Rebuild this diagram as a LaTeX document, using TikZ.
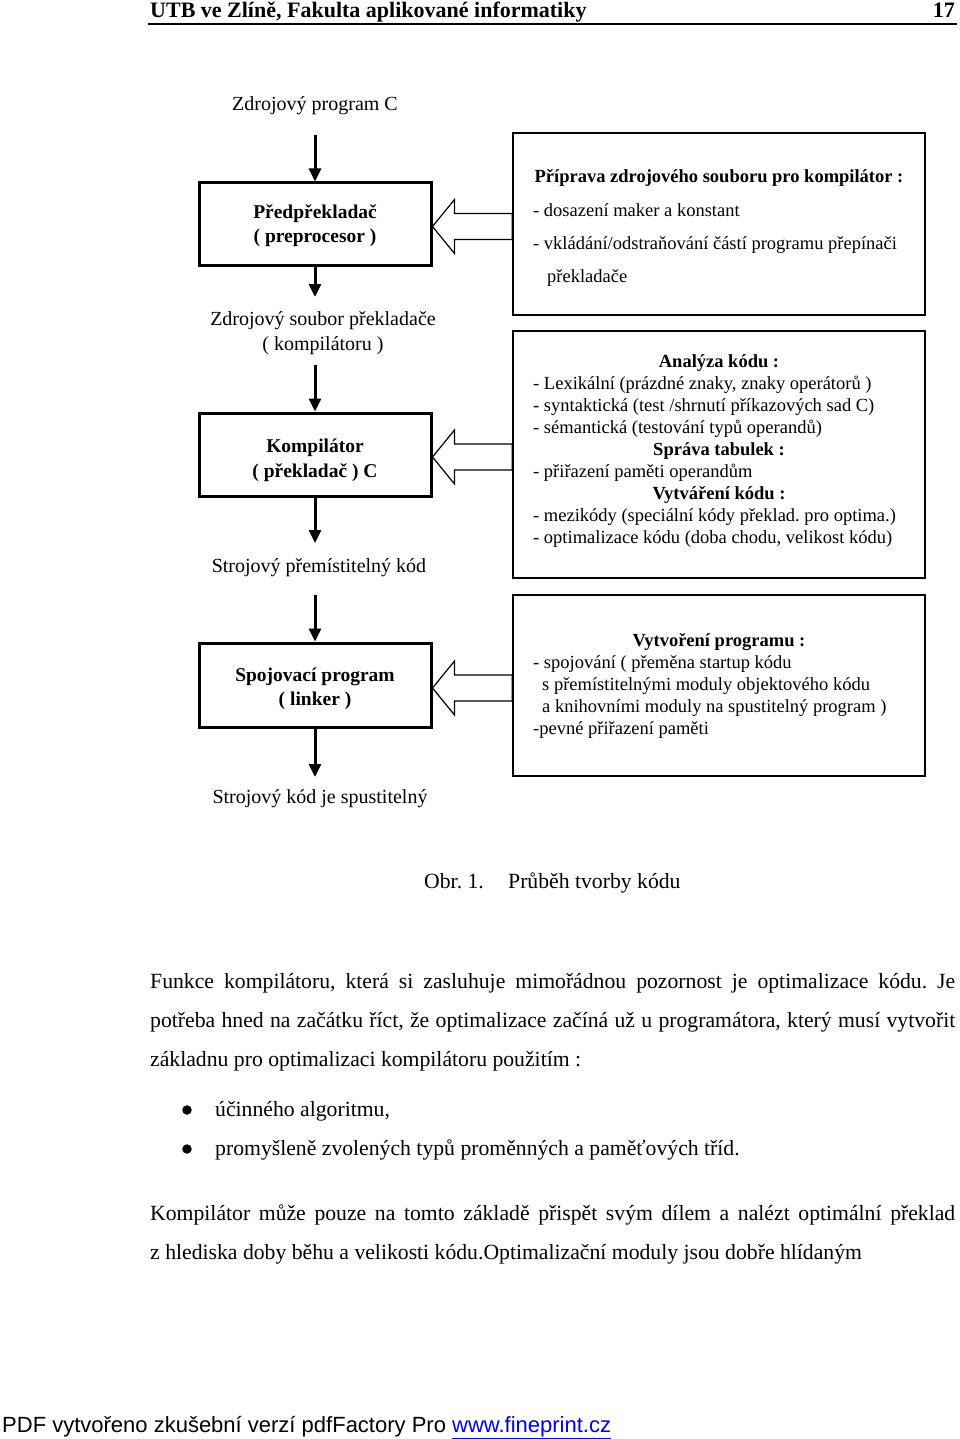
\documentclass[tikz,border=0pt]{standalone}
\usepackage{fontspec}
\setmainfont{Liberation Serif}
\newfontfamily\arialf{Liberation Sans}
\usetikzlibrary{arrows.meta,calc}
\definecolor{linkblue}{RGB}{0,0,238}
\frenchspacing
\begin{document}
\begin{tikzpicture}[x=1pt,y=-1pt,
  lbl/.style={inner sep=0pt,anchor=base,font=\fontsize{20}{24}\selectfont},
  lboxtxt/.style={inner sep=0pt,anchor=base,font=\fontsize{19.5}{24}\selectfont\bfseries},
  lbox/.style={draw,line width=3pt,minimum width=232pt,inner sep=0pt},
  rbox/.style={draw,line width=1.4pt,minimum width=412pt,inner sep=0pt},
  rhead/.style={inner sep=0pt,anchor=base,font=\fontsize{18.5}{22}\selectfont\bfseries},
  rtxt/.style={inner sep=0pt,anchor=base west,font=\fontsize{18.5}{22}\selectfont},
  flow/.style={line width=3pt,-{Triangle[length=13pt,width=12pt]}},
  hollow/.style={draw,line width=1.2pt,fill=white,line join=miter},
  body/.style={inner sep=0pt,anchor=base west,font=\fontsize{21.7}{26}\selectfont},
  bullet/.style={circle,fill=black,inner sep=0pt,minimum size=9.5pt},
]
\useasboundingbox (0,0) rectangle (960,1439);
\fill[white] (0,0) rectangle (960,1439);

% header
\node[inner sep=0pt,anchor=base west,font=\fontsize{22}{26}\selectfont\bfseries] (hdr) at (150,18) {UTB ve Zlíně, Fakulta aplikované informatiky};
\node[inner sep=0pt,anchor=base east,font=\fontsize{22}{26}\selectfont\bfseries] (pg) at (955,18) {17};
\draw[line width=1.5pt] (148,24) -- (957,24);

% left column boxes
\node[lbox,minimum height=82pt] (pre) at (315,224) {};
\node[lbox,minimum height=83pt] (komp) at (315,454.5) {};
\node[lbox,minimum height=84pt] (spoj) at (315,685) {};

\node[lboxtxt] (pre1) at (315,219) {Předpřekladač};
\node[lboxtxt] (pre2) at (315,243) {( preprocesor )};
\node[lboxtxt] (komp1) at (315,452) {Kompilátor};
\node[lboxtxt] (komp2) at (315,477) {( překladač ) C};
\node[lboxtxt] (spoj1) at (315,681) {Spojovací program};
\node[lboxtxt] (spoj2) at (315,705) {( linker )};

% left labels
\node[lbl] (src) at (315,111) {Zdrojový program C};
\node[lbl] (zs1) at (323,325) {Zdrojový soubor překladače};
\node[lbl] (zs2) at (323,350) {( kompilátoru )};
\node[lbl] (sp) at (319,572) {Strojový přemístitelný kód};
\node[lbl] (sk) at (320,803) {Strojový kód je spustitelný};

% vertical arrows
\coordinate (a1) at (315,135);
\coordinate (a2) at (315,297);
\coordinate (a3) at (315,365);
\coordinate (a4) at (315,543);
\coordinate (a5) at (315,595);
\coordinate (a6) at (315,777);
\draw[flow] (a1) -- (pre.north);
\draw[flow] (pre.south) -- (a2);
\draw[flow] (a3) -- (komp.north);
\draw[flow] (komp.south) -- (a4);
\draw[flow] (a5) -- (spoj.north);
\draw[flow] (spoj.south) -- (a6);

% right boxes
\node[rbox,minimum height=182pt] (ra) at (719,224) {};
\node[rbox,minimum height=247pt] (rb) at (719,454.5) {};
\node[rbox,minimum height=181pt] (rc) at (719,685.5) {};

% hollow arrows
\foreach \L/\R/\dy in {pre/ra/2.5, komp/rb/2.5, spoj/rc/3} {
  \coordinate (t) at ($(\L.east)+(0,\dy)$);
  \coordinate (e) at ($(\R.west|-t)$);
  \draw[hollow] (t) -- ++(22,-27) -- ++(0,14) -- ($(e)+(0,-13)$) -- ($(e)+(0,13)$)
     -- ($(t)+(22,13)$) -- ++(0,14) -- cycle;
}
\draw[line width=1.4pt] (ra.north west) -- (ra.south west);
\draw[line width=1.4pt] (rb.north west) -- (rb.south west);
\draw[line width=1.4pt] (rc.north west) -- (rc.south west);

% box A
\node[rhead] (a0) at (719,183) {Příprava zdrojového souboru pro kompilátor :};
\node[rtxt] (a1t) at (533,217) {- dosazení maker a konstant};
\node[rtxt] (a2t) at (533,250) {- vkládání/odstraňování částí programu přepínači};
\node[rtxt] (a3t) at (547,282) {překladače};

% box B
\node[rhead] (b0) at (719,367) {Analýza kódu :};
\node[rtxt] (b1) at (533,389) {- Lexikální (prázdné znaky, znaky operátorů )};
\node[rtxt] (b2) at (533,411) {- syntaktická (test /shrnutí příkazových sad C)};
\node[rtxt] (b3) at (533,433) {- sémantická (testování typů operandů)};
\node[rhead] (b4) at (719,455) {Správa tabulek :};
\node[rtxt] (b5) at (533,477) {- přiřazení paměti operandům};
\node[rhead] (b6) at (719,499) {Vytváření kódu :};
\node[rtxt] (b7) at (533,521) {- mezikódy (speciální kódy překlad. pro optima.)};
\node[rtxt] (b8) at (533,543) {- optimalizace kódu (doba chodu, velikost kódu)};

% box C
\node[rhead] (c0) at (719,646) {Vytvoření programu :};
\node[rtxt] (c1) at (533,668) {- spojování ( přeměna startup kódu};
\node[rtxt] (c2) at (542,690) {s přemístitelnými moduly objektového kódu};
\node[rtxt] (c3) at (542,712) {a knihovními moduly na spustitelný program )};
\node[rtxt] (c4) at (533,734) {-pevné přiřazení paměti};

% caption
\node[body] (cap1) at (424,888) {Obr. 1.};
\node[body] (cap2) at (508,888) {Průběh tvorby kódu};

% body text
\node[body] (p1) at (150,988) {\makebox[805pt][s]{Funkce kompilátoru, která si zasluhuje mimořádnou pozornost je optimalizace kódu. Je}};
\node[body] (p2) at (150,1027) {\makebox[805pt][s]{potřeba hned na začátku říct, že optimalizace začíná už u programátora, který musí vytvořit}};
\node[body] (p3) at (150,1066) {základnu pro optimalizaci kompilátoru použitím :};
\node[bullet] (bu1) at (187,1110) {};
\node[body] (l1) at (215,1116) {účinného algoritmu,};
\node[bullet] (bu2) at (187,1149) {};
\node[body] (l2) at (215,1155) {promyšleně zvolených typů proměnných a paměťových tříd.};
\node[body] (q1) at (150,1220) {\makebox[805pt][s]{Kompilátor může pouze na tomto základě přispět svým dílem a nalézt optimální překlad}};
\node[body] (q2) at (150,1259) {z hlediska doby běhu a velikosti kódu.Optimalizační moduly jsou dobře hlídaným};

% footer
\node[inner sep=0pt,anchor=base west,font=\arialf\fontsize{22}{26}\selectfont] (ft) at (2,1432) {PDF vytvořeno zkušební verzí pdfFactory Pro {\color{linkblue}\underline{www.fineprint.cz}}};
\end{tikzpicture}
\end{document}
